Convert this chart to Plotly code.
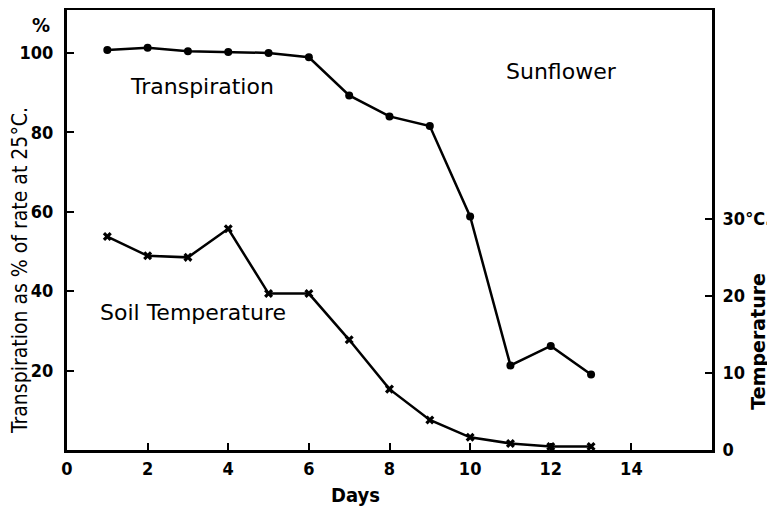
import plotly.graph_objects as go

days = [1, 2, 3, 4, 5, 6, 7, 8, 9, 10, 11, 12, 13]
transpiration = [100.7, 101.3, 100.4, 100.2, 100.0, 98.9, 89.3, 84.0, 81.6, 58.8, 21.3, 26.2, 19.0]
soil_temp = [27.7, 25.2, 25.0, 28.7, 20.3, 20.3, 14.3, 7.9, 3.9, 1.65, 0.85, 0.45, 0.45]

x_ticks = [0, 2, 4, 6, 8, 10, 12, 14]
y_ticks = [20, 40, 60, 80, 100]
y2_ticks = [0, 10, 20, 30]
y2_labels = ["0", "10", "20", "30°C."]

FONT = "DejaVu Sans Condensed"
tickfont = dict(family=FONT, size=18, color="black", weight="bold")

fig = go.Figure()
fig.add_trace(go.Scatter(
    x=days, y=transpiration, mode="lines+markers",
    line=dict(color="black", width=2.5),
    marker=dict(symbol="circle", size=8, color="black"),
    showlegend=False,
))
fig.add_trace(go.Scatter(
    x=days, y=soil_temp, mode="lines+markers", yaxis="y2",
    line=dict(color="black", width=2.5),
    marker=dict(symbol="x", size=8, color="black"),
    showlegend=False,
))

# page body has an 8px margin, so the figure is 8px smaller than the window
fig.update_layout(
    width=767, height=503,
    margin=dict(l=59, r=63, t=2, b=61),
    paper_bgcolor="white", plot_bgcolor="white",
    xaxis=dict(range=[0, 16], tickvals=x_ticks, ticks="inside", ticklen=7, tickwidth=2,
               tickcolor="black", showline=True, linecolor="black", linewidth=3, mirror=True,
               showgrid=False, zeroline=False, tickfont=tickfont, automargin=False),
    yaxis=dict(range=[0, 110.8], tickvals=y_ticks, ticks="inside", ticklen=7, tickwidth=2,
               tickcolor="black", showline=True, linecolor="black", linewidth=3,
               showgrid=False, zeroline=False, tickfont=tickfont, ticklabelstandoff=7,
               automargin=False),
    yaxis2=dict(range=[0, 57.1], tickvals=y2_ticks, ticktext=y2_labels, overlaying="y",
                side="right", ticks="inside", ticklen=7, tickwidth=2, tickcolor="black",
                showline=True, linecolor="black", linewidth=3, showgrid=False, zeroline=False,
                tickfont=tickfont, ticklabelstandoff=4, automargin=False),
)

ann_font = dict(family="DejaVu Sans", size=22, color="black")
fig.add_annotation(x=3.35, y=91.5, text="Transpiration", showarrow=False, font=ann_font)
fig.add_annotation(x=12.26, y=95.2, text="Sunflower", showarrow=False, font=ann_font)
fig.add_annotation(x=3.13, y=34.6, text="Soil Temperature", showarrow=False, font=ann_font)

fig.add_annotation(xref="paper", yref="paper", x=-0.073, y=0.409, xanchor="center", yanchor="middle",
                   text="Transpiration as % of rate at 25°C.", textangle=-90, showarrow=False,
                   font=dict(family=FONT, size=21, color="black"))
fig.add_annotation(xref="paper", yref="paper", x=1.071, y=0.248, xanchor="center", yanchor="middle",
                   text="Temperature", textangle=-90, showarrow=False,
                   font=dict(family="DejaVu Sans", size=19, color="black", weight="bold"))
fig.add_annotation(xref="paper", yref="paper", x=0.448, y=-0.102, xanchor="center", yanchor="middle",
                   text="Days", showarrow=False,
                   font=dict(family=FONT, size=20, color="black", weight="bold"))
fig.add_annotation(xref="paper", yref="paper", x=-0.040, y=0.966, xanchor="center", yanchor="middle",
                   text="%", showarrow=False,
                   font=dict(family=FONT, size=20, color="black", weight="bold"))

fig.write_html("out.html")
